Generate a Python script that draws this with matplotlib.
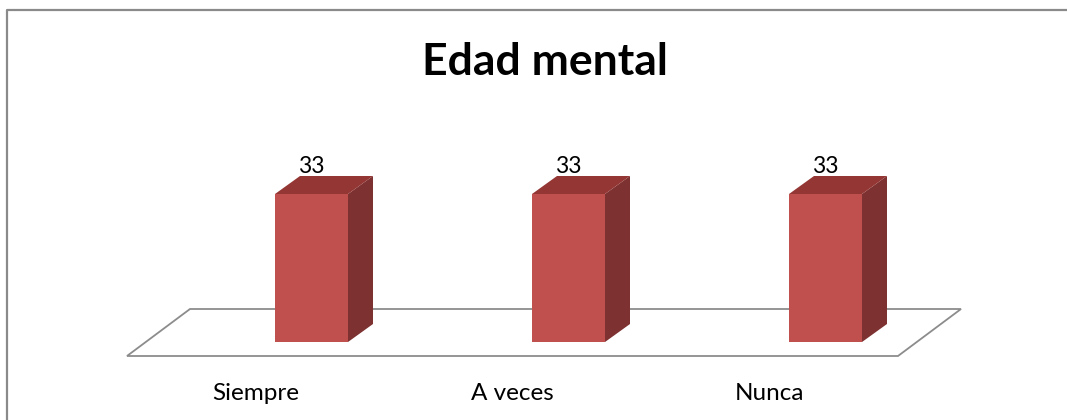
import matplotlib
matplotlib.use("Agg")
import matplotlib.pyplot as plt
from matplotlib.patches import Rectangle, Polygon
from matplotlib.lines import Line2D

# --- data ---
categories = ["Siempre", "A veces", "Nunca"]
values = [33, 33, 33]
title = "Edad mental"

FRONT = "#C0504D"
TOP = "#943634"
SIDE = "#7D3130"
FLOOR = "#8C8C8C"
FONT = "Lato"

W, H, DPI = 1067, 420, 100
fig = plt.figure(figsize=(W / DPI, H / DPI), dpi=DPI)

# axes = front plane of the bars (pixel geometry)
x0, x1 = 183, 954          # px for category -0.5 .. 2.5
y_base, y_top = 342, 162.6  # px for value 0 .. 40
ax = fig.add_axes([x0 / W, (H - y_base) / H, (x1 - x0) / W, (y_base - y_top) / H])
ax.set_xlim(-0.5, len(categories) - 0.5)
ax.set_ylim(0, 40)
ax.axis("off")

# pixel -> data unit helpers (up is positive)
sx = (len(categories)) / (x1 - x0)
sy = 40 / (y_base - y_top)
def px(dx, dy):
    return dx * sx, dy * sy

xl, xr = ax.get_xlim()

# floor parallelogram: front edge shifted (-56, -14) px, back edge (+7, +33) px
fdx, fdy = px(-56, -14)
bdx, bdy = px(7, 33)
floor = Polygon([(xl + fdx, fdy), (xr + fdx, fdy), (xr + bdx, bdy), (xl + bdx, bdy)],
                closed=True, facecolor="white", edgecolor=FLOOR, lw=1.3, clip_on=False)
ax.add_patch(floor)

# 3D bars
bw = 73 * sx
ddx, ddy = px(25, 18)
for i, v in enumerate(values):
    l, r = i - bw / 2, i + bw / 2
    side = Polygon([(r, 0), (r, v), (r + ddx, v + ddy), (r + ddx, ddy)],
                   closed=True, facecolor=SIDE, edgecolor="none", clip_on=False)
    top = Polygon([(l, v), (r, v), (r + ddx, v + ddy), (l + ddx, v + ddy)],
                  closed=True, facecolor=TOP, edgecolor="none", clip_on=False)
    front = Rectangle((l, 0), bw, v, facecolor=FRONT, edgecolor="none", clip_on=False)
    for p in (side, top, front):
        ax.add_patch(p)
    ax.annotate(str(v), (i, v), xytext=(0, 12), textcoords="offset points",
                ha="center", va="bottom", fontsize=16.5, family=FONT, color="black")

# category labels, centred on the floor front edge
for i, c in enumerate(categories):
    ax.annotate(c, (i, 0), xytext=(-56 * 72 / DPI, -51 * 72 / DPI),
                textcoords="offset points", ha="center", va="center",
                fontsize=17.5, family=FONT, color="black")

fig.text(545 / W, 1 - 62 / H, title, ha="center", va="center",
         fontsize=32, fontweight="bold", family=FONT)

# chart-area border (left and top edges visible)
fig.add_artist(Line2D([7 / W, 7 / W, 1], [0, 1 - 10 / H, 1 - 10 / H],
                      transform=fig.transFigure, color="#8A8A8A", lw=1.6))

fig.savefig("out.png", dpi=DPI)
